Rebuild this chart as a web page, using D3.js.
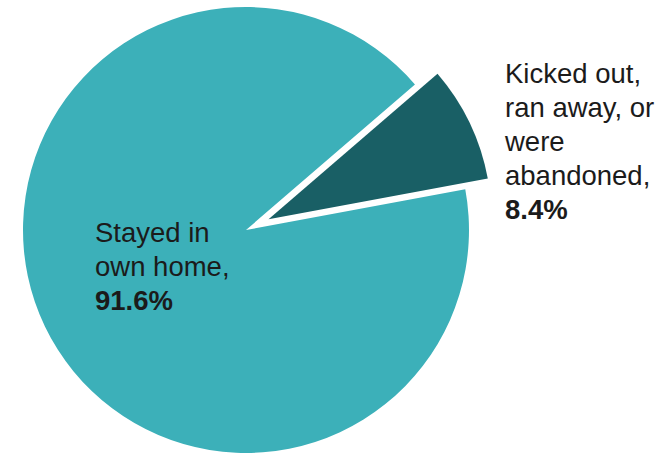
<!DOCTYPE html>
<html>
<head>
<meta charset="utf-8">
<script src="https://cdn.jsdelivr.net/npm/d3@7"></script>
<style>
  html, body { margin: 0; padding: 0; background: #ffffff; }
  svg { display: block; }
  text { font-family: "Liberation Sans", Arial, sans-serif; fill: #1b1b1b; }
</style>
</head>
<body>
<svg id="chart" width="659" height="455"></svg>
<script>
// Where the young people lived
const categories = ["Stayed in own home", "Kicked out, ran away, or were abandoned"];
const values = [91.6, 8.4];
const labelLines = [
  ["Stayed in", "own home,"],
  ["Kicked out,", "ran away, or", "were", "abandoned,"]
];
const valueLabels = ["91.6%", "8.4%"];
const colors = ["#3cb0b9", "#195f65"];

const svg = d3.select("#chart");
const cx = 246, cy = 230, radius = 223;
const explode = 25;
const deg = Math.PI / 180;

const pie = d3.pie()
  .value(d => d)
  .sort(null)
  .startAngle(79.5 * deg)
  .endAngle(79.5 * deg + 2 * Math.PI);

const arc = d3.arc().innerRadius(0).outerRadius(radius);
const arcs = pie(values);

const g = svg.append("g").attr("transform", `translate(${cx},${cy})`);

g.selectAll("path.slice")
  .data(arcs)
  .join("path")
  .attr("class", "slice")
  .attr("d", arc)
  .attr("fill", (d, i) => colors[i])
  .attr("transform", (d, i) => {
    if (i === 0) return null;
    const mid = (d.startAngle + d.endAngle) / 2;
    return `translate(${explode * Math.sin(mid)},${-explode * Math.cos(mid)})`;
  });

// Labels: category lines followed by a bold percentage
const fontSize = 27.5;
const lineH = 34;
const labelPos = [
  { x: 95, y: 242 },
  { x: 505, y: 83 }
];

labelLines.forEach((lines, i) => {
  const t = svg.append("text")
    .attr("x", labelPos[i].x)
    .attr("y", labelPos[i].y)
    .style("font-size", fontSize + "px");
  lines.forEach((ln, j) => {
    t.append("tspan")
      .attr("x", labelPos[i].x)
      .attr("dy", j === 0 ? 0 : lineH)
      .text(ln);
  });
  t.append("tspan")
    .attr("x", labelPos[i].x)
    .attr("dy", lineH)
    .style("font-weight", "bold")
    .text(valueLabels[i]);
});
</script>
</body>
</html>
